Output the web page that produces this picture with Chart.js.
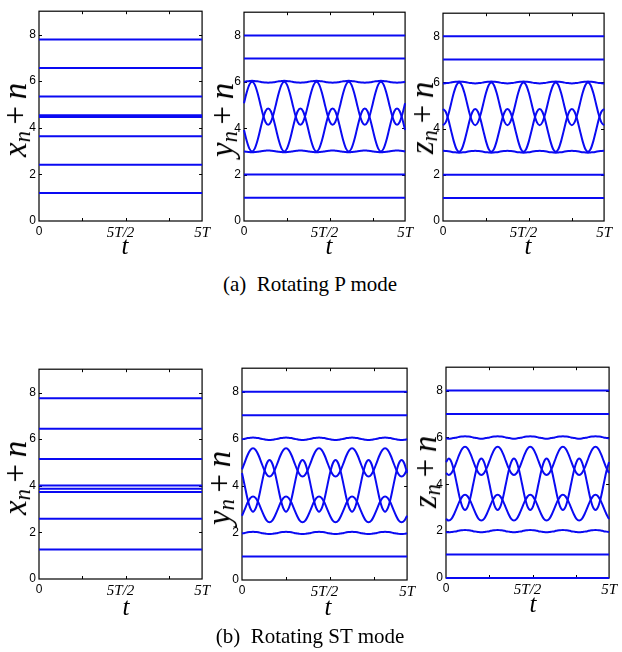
<!DOCTYPE html>
<html>
<head>
<meta charset="utf-8">
<script src="https://cdn.jsdelivr.net/npm/chart.js@4.4.1/dist/chart.umd.min.js"></script>
<style>
  body { margin: 0; background: #fff; width: 622px; height: 652px; position: relative; overflow: hidden; font-family: "Liberation Serif", "Times New Roman", Times, "DejaVu Serif", serif; }
  canvas { position: absolute; }
  .ylab { position: absolute; transform: translate(-50%, -50%) rotate(-90deg); white-space: nowrap; font-size: 33px; line-height: 1; }
  .ylab i { font-style: italic; }
  .ylab sub { font-size: 0.68em; vertical-align: -0.2em; }
  .ylab .op { margin: 0 0.2em; }
  .tlab { position: absolute; transform: translate(-50%, -50%); font-style: italic; font-size: 25px; line-height: 1; }
  .cap { position: absolute; transform: translate(-50%, -50%); white-space: pre; font-size: 21px; line-height: 1; }
</style>
</head>
<body>
<canvas id="px"></canvas>
<canvas id="py"></canvas>
<canvas id="pz"></canvas>
<canvas id="sx"></canvas>
<canvas id="sy"></canvas>
<canvas id="sz"></canvas>

<div class="ylab" style="left:17px;top:120px"><i>x</i><sub><i>n</i></sub><span class="op">+</span><i>n</i></div>
<div class="ylab" style="left:224px;top:120px"><i>y</i><sub><i>n</i></sub><span class="op">+</span><i>n</i></div>
<div class="ylab" style="left:424px;top:118px"><i>z</i><sub><i>n</i></sub><span class="op">+</span><i>n</i></div>
<div class="ylab" style="left:17px;top:478px"><i>x</i><sub><i>n</i></sub><span class="op">+</span><i>n</i></div>
<div class="ylab" style="left:221px;top:488px"><i>y</i><sub><i>n</i></sub><span class="op">+</span><i>n</i></div>
<div class="ylab" style="left:427px;top:472px"><i>z</i><sub><i>n</i></sub><span class="op">+</span><i>n</i></div>

<div class="tlab" style="left:125px;top:245px">t</div>
<div class="tlab" style="left:329px;top:245px">t</div>
<div class="tlab" style="left:528px;top:245px">t</div>
<div class="tlab" style="left:126px;top:606px">t</div>
<div class="tlab" style="left:328px;top:606px">t</div>
<div class="tlab" style="left:533px;top:603px">t</div>

<div class="cap" style="left:310px;top:284px">(a)  Rotating P mode</div>
<div class="cap" style="left:310px;top:636px">(b)  Rotating ST mode</div>

<script>
// sample times in units of T, 12 samples per period, 0..5T
const tGrid = Array.from({ length: 61 }, (_, k) => k / 12);
const yTicks = [0, 2, 4, 6, 8];
const tTickValues = [0, 2.5, 5];
const tTickLabels = ['0', '5T/2', '5T'];
const tMarks = [4 / 3, 8 / 3, 4];

// (a) rotating P mode
const pX = [1.20, 2.41, 3.64, 4.46, 4.54, 5.34, 6.56, 7.79];
const pYFlat = [1, 2, 7, 8];
const pZFlat = [1, 2, 7, 8];
const pY3 = [
  3.00, 2.98, 2.97, 2.96, 2.97, 2.98, 3.00, 3.02, 3.03, 3.04, 3.03, 3.02,
  3.00, 2.98, 2.97, 2.96, 2.97, 2.98, 3.00, 3.02, 3.03, 3.04, 3.03, 3.02,
  3.00, 2.98, 2.97, 2.96, 2.97, 2.98, 3.00, 3.02, 3.03, 3.04, 3.03, 3.02,
  3.00, 2.98, 2.97, 2.96, 2.97, 2.98, 3.00, 3.02, 3.03, 3.04, 3.03, 3.02,
  3.00, 2.98, 2.97, 2.96, 2.97, 2.98, 3.00, 3.02, 3.03, 3.04, 3.03, 3.02,
  3.00];
const pY4 = [
  3.92, 3.46, 3.12, 3.00, 3.12, 3.46, 3.92, 4.39, 4.73, 4.85, 4.73, 4.39,
  3.92, 3.46, 3.12, 3.00, 3.12, 3.46, 3.92, 4.39, 4.73, 4.85, 4.73, 4.39,
  3.92, 3.46, 3.12, 3.00, 3.12, 3.46, 3.92, 4.39, 4.73, 4.85, 4.73, 4.39,
  3.92, 3.46, 3.12, 3.00, 3.12, 3.46, 3.92, 4.39, 4.73, 4.85, 4.73, 4.39,
  3.92, 3.46, 3.12, 3.00, 3.12, 3.46, 3.92, 4.39, 4.73, 4.85, 4.73, 4.39,
  3.92];
const pY5 = [
  5.08, 5.54, 5.88, 6.00, 5.88, 5.54, 5.08, 4.61, 4.27, 4.15, 4.27, 4.61,
  5.08, 5.54, 5.88, 6.00, 5.88, 5.54, 5.08, 4.61, 4.27, 4.15, 4.27, 4.61,
  5.08, 5.54, 5.88, 6.00, 5.88, 5.54, 5.08, 4.61, 4.27, 4.15, 4.27, 4.61,
  5.08, 5.54, 5.88, 6.00, 5.88, 5.54, 5.08, 4.61, 4.27, 4.15, 4.27, 4.61,
  5.08, 5.54, 5.88, 6.00, 5.88, 5.54, 5.08, 4.61, 4.27, 4.15, 4.27, 4.61,
  5.08];
const pY6 = [
  6.00, 6.02, 6.03, 6.04, 6.03, 6.02, 6.00, 5.98, 5.97, 5.96, 5.97, 5.98,
  6.00, 6.02, 6.03, 6.04, 6.03, 6.02, 6.00, 5.98, 5.97, 5.96, 5.97, 5.98,
  6.00, 6.02, 6.03, 6.04, 6.03, 6.02, 6.00, 5.98, 5.97, 5.96, 5.97, 5.98,
  6.00, 6.02, 6.03, 6.04, 6.03, 6.02, 6.00, 5.98, 5.97, 5.96, 5.97, 5.98,
  6.00, 6.02, 6.03, 6.04, 6.03, 6.02, 6.00, 5.98, 5.97, 5.96, 5.97, 5.98,
  6.00];
const pZ3 = [
  3.04, 3.03, 3.02, 3.00, 2.98, 2.97, 2.96, 2.97, 2.98, 3.00, 3.02, 3.03,
  3.04, 3.03, 3.02, 3.00, 2.98, 2.97, 2.96, 2.97, 2.98, 3.00, 3.02, 3.03,
  3.04, 3.03, 3.02, 3.00, 2.98, 2.97, 2.96, 2.97, 2.98, 3.00, 3.02, 3.03,
  3.04, 3.03, 3.02, 3.00, 2.98, 2.97, 2.96, 2.97, 2.98, 3.00, 3.02, 3.03,
  3.04, 3.03, 3.02, 3.00, 2.98, 2.97, 2.96, 2.97, 2.98, 3.00, 3.02, 3.03,
  3.04];
const pZ4 = [
  4.85, 4.73, 4.39, 3.92, 3.46, 3.12, 3.00, 3.12, 3.46, 3.92, 4.39, 4.73,
  4.85, 4.73, 4.39, 3.92, 3.46, 3.12, 3.00, 3.12, 3.46, 3.92, 4.39, 4.73,
  4.85, 4.73, 4.39, 3.92, 3.46, 3.12, 3.00, 3.12, 3.46, 3.92, 4.39, 4.73,
  4.85, 4.73, 4.39, 3.92, 3.46, 3.12, 3.00, 3.12, 3.46, 3.92, 4.39, 4.73,
  4.85, 4.73, 4.39, 3.92, 3.46, 3.12, 3.00, 3.12, 3.46, 3.92, 4.39, 4.73,
  4.85];
const pZ5 = [
  4.15, 4.27, 4.61, 5.08, 5.54, 5.88, 6.00, 5.88, 5.54, 5.08, 4.61, 4.27,
  4.15, 4.27, 4.61, 5.08, 5.54, 5.88, 6.00, 5.88, 5.54, 5.08, 4.61, 4.27,
  4.15, 4.27, 4.61, 5.08, 5.54, 5.88, 6.00, 5.88, 5.54, 5.08, 4.61, 4.27,
  4.15, 4.27, 4.61, 5.08, 5.54, 5.88, 6.00, 5.88, 5.54, 5.08, 4.61, 4.27,
  4.15, 4.27, 4.61, 5.08, 5.54, 5.88, 6.00, 5.88, 5.54, 5.08, 4.61, 4.27,
  4.15];
const pZ6 = [
  5.96, 5.97, 5.98, 6.00, 6.02, 6.03, 6.04, 6.03, 6.02, 6.00, 5.98, 5.97,
  5.96, 5.97, 5.98, 6.00, 6.02, 6.03, 6.04, 6.03, 6.02, 6.00, 5.98, 5.97,
  5.96, 5.97, 5.98, 6.00, 6.02, 6.03, 6.04, 6.03, 6.02, 6.00, 5.98, 5.97,
  5.96, 5.97, 5.98, 6.00, 6.02, 6.03, 6.04, 6.03, 6.02, 6.00, 5.98, 5.97,
  5.96, 5.97, 5.98, 6.00, 6.02, 6.03, 6.04, 6.03, 6.02, 6.00, 5.98, 5.97,
  5.96];

// (b) rotating ST mode
const sX = [1.27, 2.58, 3.73, 3.87, 4.01, 5.15, 6.45, 7.75];
const sYFlat = [1, 7, 8];
const sZFlat = [0, 1, 7, 8];
const sY2 = [
  1.98, 2.00, 2.03, 2.04, 2.05, 2.04, 2.03, 2.00, 1.98, 1.96, 1.95, 1.96,
  1.98, 2.00, 2.03, 2.04, 2.05, 2.04, 2.03, 2.00, 1.98, 1.96, 1.95, 1.96,
  1.98, 2.00, 2.03, 2.04, 2.05, 2.04, 2.03, 2.00, 1.98, 1.96, 1.95, 1.96,
  1.98, 2.00, 2.03, 2.04, 2.05, 2.04, 2.03, 2.00, 1.98, 1.96, 1.95, 1.96,
  1.98, 2.00, 2.03, 2.04, 2.05, 2.04, 2.03, 2.00, 1.98, 1.96, 1.95, 1.96,
  1.98];
const sY3 = [
  2.73, 3.00, 3.28, 3.48, 3.55, 3.48, 3.28, 3.00, 2.73, 2.52, 2.45, 2.52,
  2.73, 3.00, 3.28, 3.48, 3.55, 3.48, 3.28, 3.00, 2.73, 2.52, 2.45, 2.52,
  2.73, 3.00, 3.28, 3.48, 3.55, 3.48, 3.28, 3.00, 2.73, 2.52, 2.45, 2.52,
  2.73, 3.00, 3.28, 3.48, 3.55, 3.48, 3.28, 3.00, 2.73, 2.52, 2.45, 2.52,
  2.73, 3.00, 3.28, 3.48, 3.55, 3.48, 3.28, 3.00, 2.73, 2.52, 2.45, 2.52,
  2.73];
const sY4 = [
  4.55, 4.00, 3.45, 3.05, 2.90, 3.05, 3.45, 4.00, 4.55, 4.95, 5.10, 4.95,
  4.55, 4.00, 3.45, 3.05, 2.90, 3.05, 3.45, 4.00, 4.55, 4.95, 5.10, 4.95,
  4.55, 4.00, 3.45, 3.05, 2.90, 3.05, 3.45, 4.00, 4.55, 4.95, 5.10, 4.95,
  4.55, 4.00, 3.45, 3.05, 2.90, 3.05, 3.45, 4.00, 4.55, 4.95, 5.10, 4.95,
  4.55, 4.00, 3.45, 3.05, 2.90, 3.05, 3.45, 4.00, 4.55, 4.95, 5.10, 4.95,
  4.55];
const sY5 = [
  4.70, 5.00, 5.30, 5.52, 5.60, 5.52, 5.30, 5.00, 4.70, 4.48, 4.40, 4.48,
  4.70, 5.00, 5.30, 5.52, 5.60, 5.52, 5.30, 5.00, 4.70, 4.48, 4.40, 4.48,
  4.70, 5.00, 5.30, 5.52, 5.60, 5.52, 5.30, 5.00, 4.70, 4.48, 4.40, 4.48,
  4.70, 5.00, 5.30, 5.52, 5.60, 5.52, 5.30, 5.00, 4.70, 4.48, 4.40, 4.48,
  4.70, 5.00, 5.30, 5.52, 5.60, 5.52, 5.30, 5.00, 4.70, 4.48, 4.40, 4.48,
  4.70];
const sY6 = [
  5.98, 6.00, 6.03, 6.04, 6.05, 6.04, 6.03, 6.00, 5.98, 5.96, 5.95, 5.96,
  5.98, 6.00, 6.03, 6.04, 6.05, 6.04, 6.03, 6.00, 5.98, 5.96, 5.95, 5.96,
  5.98, 6.00, 6.03, 6.04, 6.05, 6.04, 6.03, 6.00, 5.98, 5.96, 5.95, 5.96,
  5.98, 6.00, 6.03, 6.04, 6.05, 6.04, 6.03, 6.00, 5.98, 5.96, 5.95, 5.96,
  5.98, 6.00, 6.03, 6.04, 6.05, 6.04, 6.03, 6.00, 5.98, 5.96, 5.95, 5.96,
  5.98];
const sZ2 = [
  1.96, 1.95, 1.96, 1.98, 2.00, 2.03, 2.04, 2.05, 2.04, 2.03, 2.00, 1.98,
  1.96, 1.95, 1.96, 1.98, 2.00, 2.03, 2.04, 2.05, 2.04, 2.03, 2.00, 1.98,
  1.96, 1.95, 1.96, 1.98, 2.00, 2.03, 2.04, 2.05, 2.04, 2.03, 2.00, 1.98,
  1.96, 1.95, 1.96, 1.98, 2.00, 2.03, 2.04, 2.05, 2.04, 2.03, 2.00, 1.98,
  1.96, 1.95, 1.96, 1.98, 2.00, 2.03, 2.04, 2.05, 2.04, 2.03, 2.00, 1.98,
  1.96];
const sZ3 = [
  2.52, 2.45, 2.52, 2.73, 3.00, 3.28, 3.48, 3.55, 3.48, 3.28, 3.00, 2.73,
  2.52, 2.45, 2.52, 2.73, 3.00, 3.28, 3.48, 3.55, 3.48, 3.28, 3.00, 2.73,
  2.52, 2.45, 2.52, 2.73, 3.00, 3.28, 3.48, 3.55, 3.48, 3.28, 3.00, 2.73,
  2.52, 2.45, 2.52, 2.73, 3.00, 3.28, 3.48, 3.55, 3.48, 3.28, 3.00, 2.73,
  2.52, 2.45, 2.52, 2.73, 3.00, 3.28, 3.48, 3.55, 3.48, 3.28, 3.00, 2.73,
  2.52];
const sZ4 = [
  4.95, 5.10, 4.95, 4.55, 4.00, 3.45, 3.05, 2.90, 3.05, 3.45, 4.00, 4.55,
  4.95, 5.10, 4.95, 4.55, 4.00, 3.45, 3.05, 2.90, 3.05, 3.45, 4.00, 4.55,
  4.95, 5.10, 4.95, 4.55, 4.00, 3.45, 3.05, 2.90, 3.05, 3.45, 4.00, 4.55,
  4.95, 5.10, 4.95, 4.55, 4.00, 3.45, 3.05, 2.90, 3.05, 3.45, 4.00, 4.55,
  4.95, 5.10, 4.95, 4.55, 4.00, 3.45, 3.05, 2.90, 3.05, 3.45, 4.00, 4.55,
  4.95];
const sZ5 = [
  4.48, 4.40, 4.48, 4.70, 5.00, 5.30, 5.52, 5.60, 5.52, 5.30, 5.00, 4.70,
  4.48, 4.40, 4.48, 4.70, 5.00, 5.30, 5.52, 5.60, 5.52, 5.30, 5.00, 4.70,
  4.48, 4.40, 4.48, 4.70, 5.00, 5.30, 5.52, 5.60, 5.52, 5.30, 5.00, 4.70,
  4.48, 4.40, 4.48, 4.70, 5.00, 5.30, 5.52, 5.60, 5.52, 5.30, 5.00, 4.70,
  4.48, 4.40, 4.48, 4.70, 5.00, 5.30, 5.52, 5.60, 5.52, 5.30, 5.00, 4.70,
  4.48];
const sZ6 = [
  5.96, 5.95, 5.96, 5.98, 6.00, 6.03, 6.04, 6.05, 6.04, 6.03, 6.00, 5.98,
  5.96, 5.95, 5.96, 5.98, 6.00, 6.03, 6.04, 6.05, 6.04, 6.03, 6.00, 5.98,
  5.96, 5.95, 5.96, 5.98, 6.00, 6.03, 6.04, 6.05, 6.04, 6.03, 6.00, 5.98,
  5.96, 5.95, 5.96, 5.98, 6.00, 6.03, 6.04, 6.05, 6.04, 6.03, 6.00, 5.98,
  5.96, 5.95, 5.96, 5.98, 6.00, 6.03, 6.04, 6.05, 6.04, 6.03, 6.00, 5.98,
  5.96];

const BLUE = '#0a0af2';
const sansFont = { family: '"Liberation Sans", Arial, Helvetica, sans-serif', size: 12 };
const mathFont = { family: '"Liberation Serif", "Times New Roman", Times, serif', size: 15, style: 'italic' };

// matlab-style box: frame + inward ticks, drawn under the data
const matlabBox = {
  id: 'matlabBox',
  beforeDatasetsDraw(chart) {
    const { ctx, chartArea: a, scales: { x, y } } = chart;
    ctx.save();
    ctx.strokeStyle = '#000';
    ctx.lineWidth = 1.2;
    ctx.strokeRect(a.left, a.top, a.right - a.left, a.bottom - a.top);
    ctx.lineWidth = 1;
    ctx.beginPath();
    tMarks.forEach((v) => {
      const px = Math.round(x.getPixelForValue(v)) + 0.5;
      ctx.moveTo(px, a.bottom); ctx.lineTo(px, a.bottom - 3);
      ctx.moveTo(px, a.top); ctx.lineTo(px, a.top + 3);
    });
    yTicks.slice(1).forEach((v) => {
      const py = Math.round(y.getPixelForValue(v)) + 0.5;
      ctx.moveTo(a.left, py); ctx.lineTo(a.left + 3, py);
      ctx.moveTo(a.right, py); ctx.lineTo(a.right - 3, py);
    });
    ctx.stroke();
    ctx.restore();
  },
};

function panel(id, rect, flat, curves) {
  const [L, R, T, B] = rect;
  const el = document.getElementById(id);
  const w = R - L + 40, h = B - T + 30;
  el.width = w; el.height = h;
  el.style.left = (L - 30) + 'px';
  el.style.top = (T - 5) + 'px';
  el.style.width = w + 'px';
  el.style.height = h + 'px';

  const line = { borderColor: BLUE, borderWidth: 2, pointRadius: 0, fill: false, clip: 2 };
  const datasets = [];
  flat.forEach((v) => datasets.push({ ...line, data: [{ x: 0, y: v }, { x: 5, y: v }] }));
  curves.forEach((arr) => datasets.push({
    ...line,
    cubicInterpolationMode: 'monotone',
    data: arr.map((v, i) => ({ x: tGrid[i], y: v })),
  }));

  new Chart(el, {
    type: 'line',
    data: { datasets },
    options: {
      responsive: false,
      animation: false,
      events: [],
      layout: { padding: { top: 5, right: 10, left: 0, bottom: 0 } },
      plugins: { legend: { display: false }, tooltip: { enabled: false } },
      scales: {
        x: {
          type: 'linear', min: 0, max: 5,
          grid: { display: false, drawTicks: false },
          border: { display: false },
          afterBuildTicks: (s) => { s.ticks = tTickValues.map((v) => ({ value: v })); },
          afterFit: (s) => { s.height = 25; },
          ticks: {
            padding: 3, maxRotation: 0, autoSkip: false, color: '#000',
            callback: (v, i) => tTickLabels[i],
            font: (c) => (c.index === 0 ? sansFont : mathFont),
          },
        },
        y: {
          min: 0, max: 9,
          grid: { display: false, drawTicks: false },
          border: { display: false },
          afterBuildTicks: (s) => { s.ticks = yTicks.map((v) => ({ value: v })); },
          afterFit: (s) => { s.width = 30; },
          ticks: { padding: 3, color: '#000', font: sansFont },
        },
      },
    },
    plugins: [matlabBox],
  });
}

panel('px', [39, 203, 6, 221], pX, []);
panel('py', [244, 406, 7, 221], pYFlat, [pY3, pY4, pY5, pY6]);
panel('pz', [443, 605, 8, 221], pZFlat, [pZ3, pZ4, pZ5, pZ6]);
panel('sx', [39, 203, 364, 579], sX, []);
panel('sy', [242, 408, 363, 580], sYFlat, [sY2, sY3, sY4, sY5, sY6]);
panel('sz', [446, 610, 362, 578], sZFlat, [sZ2, sZ3, sZ4, sZ5, sZ6]);
</script>
</body>
</html>
